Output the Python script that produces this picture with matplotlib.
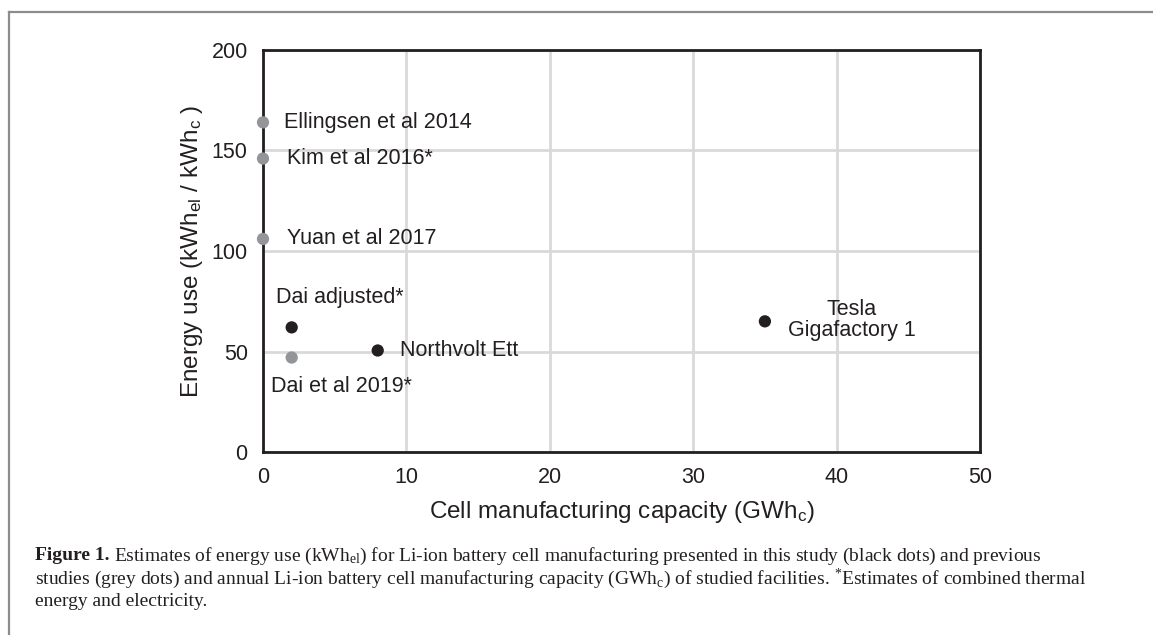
#!/usr/bin/env python3
import matplotlib
matplotlib.use("Agg")
import matplotlib.pyplot as plt
from matplotlib.lines import Line2D

# Data
labels = ["Ellingsen et al 2014", "Kim et al 2016*", "Yuan et al 2017",
          "Dai adjusted*", "Dai et al 2019*", "Northvolt Ett", "Tesla\nGigafactory 1"]
capacity = [0, 0, 0, 2, 2, 8, 35]          # GWh_c
energy = [164, 146, 106, 62, 47, 50.5, 65]  # kWh_el / kWh_c
this_study = [False, False, False, True, False, True, True]
x_ticks = [0, 10, 20, 30, 40, 50]
y_ticks = [0, 50, 100, 150, 200]

# label offsets in pixels (dx, dy), and alignment
offsets = [(21, 0, "left"), (24, 0, "left"), (24, 0, "left"),
           (-16, 30, "left"), (-21, -29, "left"), (22, 0, "left"), (87, 1, "center")]

BLACK = "#231f20"
GREY = "#939598"
GRID = "#d9d9d9"

plt.rcParams["font.family"] = ["Liberation Sans", "DejaVu Sans"]
plt.rcParams["mathtext.default"] = "regular"

fig = plt.figure(figsize=(11.53, 6.35), dpi=100)
W, H = 1153, 635
ax = fig.add_axes([263 / W, 1 - 452 / H, 717 / W, 402 / H])

colors = [BLACK if s else GREY for s in this_study]
ax.scatter(capacity, energy, s=78, c=colors, zorder=5, clip_on=False, linewidths=0)

for lab, x, y, (dx, dy, ha) in zip(labels, capacity, energy, offsets):
    ax.annotate(lab, xy=(x, y), xytext=(dx, dy), textcoords="offset pixels",
                ha=ha, va="center", fontsize=15.5, color=BLACK,
                multialignment="center", linespacing=1.0, zorder=6)

ax.set_xlim(0, 50)
ax.set_ylim(0, 200)
ax.set_xticks(x_ticks)
ax.set_yticks(y_ticks)
ax.tick_params(length=0, labelsize=15.5, labelcolor=BLACK, pad=11)
ax.grid(True, color=GRID, linewidth=2)
ax.set_axisbelow(True)
for sp in ax.spines.values():
    sp.set_color(BLACK)
    sp.set_linewidth(2)

ax.set_xlabel("Cell manufacturing capacity (GWh$_{c}$)", fontsize=17.5, color=BLACK, labelpad=8)
ax.set_ylabel("Energy use (kWh$_{el}$ / kWh$_{c}$ )", fontsize=17.5, color=BLACK, labelpad=5)

# outer frame (left and top only visible)
fig.add_artist(Line2D([9 / W, 9 / W], [0, 1 - 12 / H], color="#8c8c8c", lw=1.6))
fig.add_artist(Line2D([9 / W, 1], [1 - 12 / H, 1 - 12 / H], color="#8c8c8c", lw=1.6))

# caption
cap_font = ["Liberation Serif", "DejaVu Serif"]
x0 = 35
right_edge = 1133
lines_y = [556, 579, 602]
line2 = ("studies (grey dots) and annual Li-ion battery cell manufacturing capacity "
         "(GWh$_{c}$) of studied facilities. $^{*}$Estimates of combined thermal")

renderer = fig.canvas.get_renderer()
probe = fig.text(0, 0, line2, family=cap_font, fontsize=10)
cap_size = min(14.0, 10 * (right_edge - x0) / probe.get_window_extent(renderer).width)
probe.remove()

t = fig.text(x0 / W, 1 - lines_y[0] / H, "Figure 1.", family=cap_font, weight="bold",
             fontsize=cap_size, color=BLACK, va="center")
bb = t.get_window_extent(renderer)
fig.text((bb.x1 + 5) / W, 1 - lines_y[0] / H,
         "Estimates of energy use (kWh$_{el}$) for Li-ion battery cell manufacturing "
         "presented in this study (black dots) and previous",
         family=cap_font, fontsize=cap_size, color=BLACK, va="center")
fig.text(x0 / W, 1 - lines_y[1] / H, line2,
         family=cap_font, fontsize=cap_size, color=BLACK, va="center")
fig.text(x0 / W, 1 - lines_y[2] / H, "energy and electricity.",
         family=cap_font, fontsize=cap_size, color=BLACK, va="center")

fig.savefig("out.png", dpi=100)
